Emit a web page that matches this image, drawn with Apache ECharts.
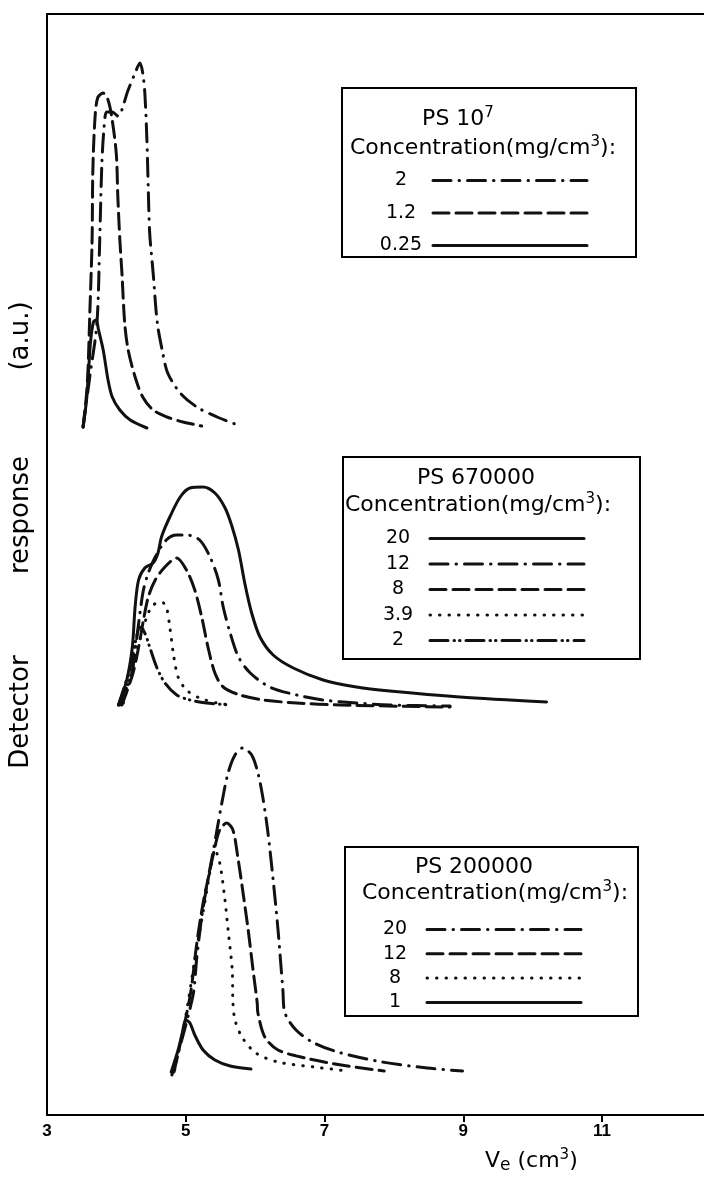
<!DOCTYPE html>
<html><head><meta charset="utf-8">
<script src="https://cdn.jsdelivr.net/npm/echarts@6/dist/echarts.min.js"></script>
<style>html,body{margin:0;padding:0;background:#fff}#c{width:704px;height:1177px}</style>
</head><body><div id="c"></div>
<script>
// ---- axis ticks ----
const xTickLabels = [3, 5, 7, 9, 11];
const xTickMarks = [5, 7, 9, 11];

// ---- PS 10^7 (detector response, arbitrary units) ----
const ps1e7_c2 = [[3.52,68.8],[3.62,74.0],[3.72,79.2],[3.76,87.5],[3.79,95.0],[3.82,98.5],[3.86,100.3],[3.94,100.3],[4.02,99.9],[4.17,102.5],[4.27,104.2],[4.34,105.2],[4.38,104.2],[4.41,102.2],[4.44,97.5],[4.46,92.5],[4.48,88.2],[4.53,84.2],[4.59,79.2],[4.66,76.5],[4.74,74.2],[4.92,72.2],[5.16,70.8],[5.45,69.8],[5.75,69.0]];
const ps1e7_c12 = [[3.52,68.8],[3.58,73.0],[3.62,80.8],[3.65,87.5],[3.66,94.2],[3.69,99.5],[3.73,101.7],[3.81,102.2],[3.88,101.5],[3.94,99.5],[4.00,96.0],[4.02,92.0],[4.05,87.5],[4.08,84.2],[4.12,79.2],[4.17,76.5],[4.27,73.8],[4.38,71.8],[4.53,70.5],[4.73,69.8],[4.96,69.3],[5.23,68.9]];
const ps1e7_c025 = [[3.52,68.8],[3.57,71.5],[3.60,74.5],[3.63,77.5],[3.67,79.3],[3.71,79.5],[3.74,78.6],[3.81,76.5],[3.88,73.5],[3.94,71.8],[4.05,70.5],[4.20,69.5],[4.44,68.7]];

// ---- PS 670000 ----
const ps670k_c20 = [[4.03,41.0],[4.15,43.5],[4.23,46.8],[4.27,50.8],[4.32,53.5],[4.41,54.7],[4.53,55.2],[4.60,56.2],[4.65,57.8],[4.77,59.8],[4.92,61.8],[5.06,62.7],[5.25,62.8],[5.42,62.2],[5.56,60.8],[5.66,59.0],[5.76,56.5],[5.85,53.2],[5.95,50.2],[6.07,47.8],[6.26,46.0],[6.55,44.7],[6.98,43.5],[7.46,42.8],[7.94,42.4],[8.95,41.8],[10.20,41.3]];
const ps670k_c12 = [[4.05,41.0],[4.22,44.2],[4.29,47.5],[4.34,50.2],[4.39,52.5],[4.46,54.2],[4.56,55.8],[4.72,57.5],[4.87,58.0],[5.01,58.0],[5.20,57.5],[5.35,55.8],[5.47,53.5],[5.54,50.8],[5.64,48.2],[5.76,45.8],[5.93,44.2],[6.21,42.8],[6.60,42.0],[6.98,41.5],[7.46,41.2],[7.94,41.0],[8.81,40.9]];
const ps670k_c8 = [[4.08,41.0],[4.24,44.2],[4.34,47.5],[4.39,49.5],[4.46,51.8],[4.56,53.5],[4.70,54.8],[4.87,55.7],[5.01,54.5],[5.13,52.5],[5.23,49.8],[5.32,46.8],[5.42,44.2],[5.54,42.8],[5.78,42.0],[6.12,41.5],[6.60,41.2],[7.22,41.0],[8.81,40.8]];
const ps670k_c39 = [[4.10,41.2],[4.29,46.2],[4.39,48.8],[4.46,50.2],[4.53,51.0],[4.65,51.3],[4.72,50.8],[4.77,48.8],[4.82,46.2],[4.89,43.8],[5.01,42.5],[5.20,41.7],[5.45,41.2],[5.68,41.0]];
const ps670k_c2 = [[4.03,41.0],[4.20,44.8],[4.29,47.8],[4.34,48.8],[4.41,48.2],[4.48,46.8],[4.58,44.8],[4.70,43.2],[4.87,42.0],[5.06,41.5],[5.30,41.2],[5.64,41.0]];

// ---- PS 200000 ----
const ps200k_c20 = [[4.80,4.0],[5.10,11.8],[5.16,15.8],[5.23,19.8],[5.31,23.2],[5.38,25.8],[5.45,28.5],[5.52,31.2],[5.61,34.2],[5.71,36.0],[5.82,36.7],[5.95,36.0],[6.04,34.2],[6.11,31.8],[6.18,28.5],[6.26,23.5],[6.33,18.5],[6.40,12.5],[6.43,10.2],[6.59,8.5],[6.85,7.2],[7.24,6.2],[7.83,5.3],[8.48,4.7],[8.99,4.4]];
const ps200k_c12 = [[4.83,4.3],[5.06,11.8],[5.16,17.2],[5.25,21.2],[5.35,24.5],[5.42,26.8],[5.49,28.5],[5.59,29.2],[5.68,28.5],[5.75,25.8],[5.82,22.5],[5.90,18.5],[5.97,14.5],[6.03,11.2],[6.04,10.2],[6.14,7.8],[6.33,6.5],[6.72,5.7],[7.24,5.0],[7.86,4.4]];
const ps200k_c8 = [[4.84,4.5],[4.99,9.5],[5.13,15.5],[5.28,21.5],[5.38,25.5],[5.42,26.5],[5.49,25.2],[5.56,21.8],[5.61,18.5],[5.67,14.5],[5.68,11.2],[5.71,9.5],[5.81,7.8],[6.01,6.2],[6.33,5.3],[6.85,4.8],[7.34,4.4]];
const ps200k_c1 = [[4.79,4.3],[4.89,6.5],[4.95,8.2],[5.00,9.5],[5.06,9.2],[5.13,8.0],[5.25,6.5],[5.42,5.5],[5.64,4.9],[5.94,4.6]];

// ---- legend labels ----
const labels1e7 = ['2', '1.2', '0.25'];
const labels670k = ['20', '12', '8', '3.9', '2'];
const labels200k = ['20', '12', '8', '1'];
const yTitleWords = ['Detector', 'response', '(a.u.)'];

const DASHDOT = [18, 8, 0.5, 8];
const DASHED = [16, 7];
const DOTTED = [0.5, 9];
const DASHDOTDOT = [18, 6, 0.5, 5, 0.5, 6];
const SOLID = 'solid';

const FONT = '"DejaVu Sans", sans-serif';
const labelOf = {};
function mk(id, label, data, type) {
  labelOf[id] = label;
  return {
    name: id, type: 'line', data: data, symbol: 'none', showSymbol: false,
    smooth: 0.3, silent: true, animation: false,
    lineStyle: { color: '#111', width: 3, type: type, cap: 'round', join: 'round' }
  };
}
const series = [
  mk('a0', labels1e7[0], ps1e7_c2, DASHDOT),
  mk('a1', labels1e7[1], ps1e7_c12, DASHED),
  mk('a2', labels1e7[2], ps1e7_c025, SOLID),
  mk('b0', labels670k[0], ps670k_c20, SOLID),
  mk('b1', labels670k[1], ps670k_c12, DASHDOT),
  mk('b2', labels670k[2], ps670k_c8, DASHED),
  mk('b3', labels670k[3], ps670k_c39, DOTTED),
  mk('b4', labels670k[4], ps670k_c2, DASHDOTDOT),
  mk('c0', labels200k[0], ps200k_c20, DASHDOT),
  mk('c1', labels200k[1], ps200k_c12, DASHED),
  mk('c2', labels200k[2], ps200k_c8, DOTTED),
  mk('c3', labels200k[3], ps200k_c1, SOLID)
];

function legend(ids, left, top, gap) {
  return {
    data: ids, orient: 'vertical', left: left, top: top, padding: 0,
    itemWidth: 154, itemHeight: 14, itemGap: gap, align: 'right', selectedMode: false,
    itemStyle: { opacity: 0, borderWidth: 0 },
    lineStyle: { width: 3, color: '#111' },
    formatter: n => '{c|' + labelOf[n] + '}',
    textStyle: { color: '#000', fontFamily: FONT, fontSize: 19,
      rich: { c: { width: 54, align: 'center', fontSize: 19, lineHeight: 14, fontFamily: FONT, color: '#000' } } }
  };
}

function boxText(x, y, text, align, size) {
  return { type: 'text', x: x, y: y, silent: true,
    style: { text: text, fill: '#000', font: size + 'px ' + FONT, align: align, verticalAlign: 'middle',
      rich: {
        n: { fontSize: size, lineHeight: 26, fontFamily: FONT, verticalAlign: 'middle' },
        sup: { fontSize: 15, lineHeight: 15, fontFamily: FONT, verticalAlign: 'top' },
        sub: { fontSize: 17, lineHeight: 15, fontFamily: FONT, verticalAlign: 'bottom' }
      } } };
}
function vText(y, text) {
  return { type: 'text', x: 21, y: y, rotation: Math.PI / 2, silent: true,
    style: { text: text, fill: '#000', font: '26px ' + FONT, align: 'center', verticalAlign: 'middle' } };
}
function rect(x, y, w, h) {
  return { type: 'rect', silent: true, shape: { x: x, y: y, width: w, height: h },
    style: { fill: 'none', stroke: '#000', lineWidth: 2 } };
}

const option = {
  backgroundColor: '#fff',
  animation: false,
  grid: { left: 47, right: 0, top: 14, bottom: 62, containLabel: false },
  xAxis: [{
    type: 'value', min: 3, max: 12.47, position: 'bottom',
    axisLine: { show: true, lineStyle: { color: '#000', width: 2 } },
    axisTick: { show: true, customValues: xTickMarks, length: 7, lineStyle: { color: '#000', width: 2 } },
    axisLabel: { show: true, customValues: xTickLabels, color: '#000', fontWeight: 'bold', fontSize: 17,
      fontFamily: 'Liberation Sans', margin: 8 },
    splitLine: { show: false }
  }, {
    type: 'value', min: 3, max: 12.47, position: 'top',
    axisLine: { show: true, lineStyle: { color: '#000', width: 2 } },
    axisTick: { show: false }, axisLabel: { show: false }, splitLine: { show: false }
  }],
  yAxis: {
    type: 'value', min: 0, max: 110.1,
    axisLine: { show: true, lineStyle: { color: '#000', width: 2 } },
    axisTick: { show: false }, axisLabel: { show: false }, splitLine: { show: false }
  },
  legend: [
    legend(['a0', 'a1', 'a2'], 374, 171, 13.5),
    legend(['b0', 'b1', 'b2', 'b3', 'b4'], 371, 529, 6.5),
    legend(['c0', 'c1', 'c2', 'c3'], 368, 920, 5.3)
  ],
  series: series,
  graphic: [
    rect(342, 88, 294, 169),
    rect(343, 457, 297, 202),
    rect(345, 847, 293, 169),
    boxText(458, 119, '{n|PS 10}{sup|7}', 'center', 22),
    boxText(350, 148, '{n|Concentration(mg/cm}{sup|3}{n|):}', 'left', 22),
    boxText(476, 478, '{n|PS 670000}', 'center', 22),
    boxText(345, 505, '{n|Concentration(mg/cm}{sup|3}{n|):}', 'left', 22),
    boxText(474, 867, '{n|PS 200000}', 'center', 22),
    boxText(362, 893, '{n|Concentration(mg/cm}{sup|3}{n|):}', 'left', 22),
    boxText(485, 1161, '{n|V}{sub|e}{n| (cm}{sup|3}{n|)}', 'left', 22),
    vText(712, yTitleWords[0]),
    vText(515, yTitleWords[1]),
    vText(336, yTitleWords[2])
  ]
};
const chart = echarts.init(document.getElementById('c'), null, { renderer: 'canvas' });
chart.setOption(option);
</script>
</body></html>
